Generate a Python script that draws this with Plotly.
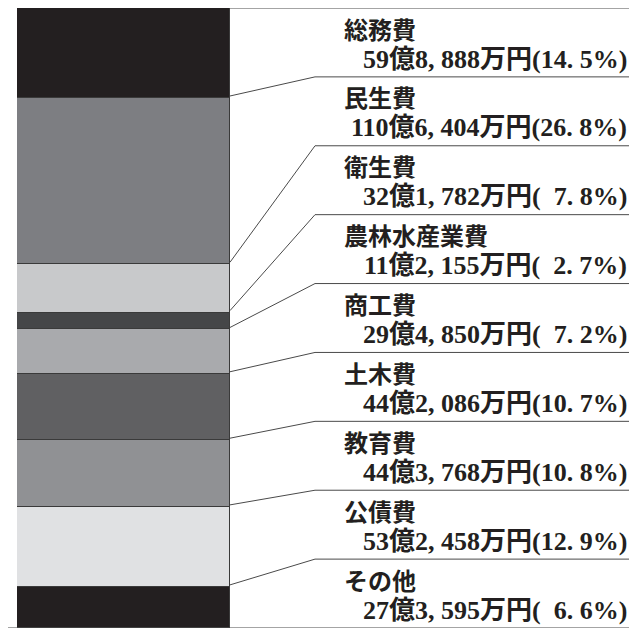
import plotly.graph_objects as go

categories = ["総務費", "民生費", "衛生費", "農林水産業費", "商工費", "土木費", "教育費", "公債費", "その他"]
amounts_man_yen = [598888, 1106404, 321782, 112155, 294850, 442086, 443768, 532458, 273595]
amount_labels = ["59億8, 888万円", "110億6, 404万円", "32億1, 782万円", "11億2, 155万円", "29億4, 850万円",
                 "44億2, 086万円", "44億3, 768万円", "53億2, 458万円", "27億3, 595万円"]
percent_labels = ["14. 5%", "26. 8%", "  7. 8%", "  2. 7%", "  7. 2%", "10. 7%", "10. 8%", "12. 9%", "  6. 6%"]
colors = ["#231f20", "#7d7e82", "#c8c9cb", "#454648", "#a9aaad", "#606062", "#909194", "#e0e1e3", "#231f20"]

# page geometry (the page body has an 8px margin)
PAGE_OFF = 8
W, H = 637 - PAGE_OFF, 630 - PAGE_OFF
plot_left_page, plot_right_page = 17, 637
plot_top_page, plot_bot_page = 8, 628
m_l = plot_left_page - PAGE_OFF
m_r = 0
m_t = plot_top_page - PAGE_OFF
m_b = (H + PAGE_OFF) - plot_bot_page
plot_w = plot_right_page - plot_left_page
plot_h = plot_bot_page - plot_top_page
bar_px = 213
total = sum(amounts_man_yen)

x_lo = -0.5
x_hi = x_lo + plot_w / bar_px
def px_to_x(px):
    return x_lo + (px - plot_left_page) / bar_px
def dpx_to_y(dpx):
    return dpx / plot_h * total

fig = go.Figure()
for cat, val, col in zip(categories, amounts_man_yen, colors):
    fig.add_trace(go.Bar(
        x=[0], y=[val], name=cat, width=1,
        marker=dict(color=col, line=dict(color="#3a3a3a", width=1.2)),
        hoverinfo="name+y",
    ))

n = len(categories)
slot = total / n
line_color = "#4a4a4a"
elbow_x = px_to_x(315)
shapes = []
shapes.append(dict(type="line", xref="x", yref="y", x0=0.5, x1=x_hi, y0=0, y1=0,
                   line=dict(color=line_color, width=1)))
shapes.append(dict(type="line", xref="paper", yref="y", x0=-m_l / plot_w, x1=1, y0=total, y1=total,
                   line=dict(color=line_color, width=1.2)))
cum = 0
annotations = []
for i, (cat, val) in enumerate(zip(categories, amounts_man_yen)):
    cum += val
    slot_top = slot * i
    slot_bot = slot * (i + 1)
    if i < n - 1:
        shapes.append(dict(type="path", xref="x", yref="y",
                           path=f"M 0.5 {cum - dpx_to_y(2)} L {elbow_x} {slot_bot} L {x_hi} {slot_bot}",
                           line=dict(color=line_color, width=1)))
    annotations.append(dict(
        xref="x", yref="y", x=px_to_x(342), y=slot_top + dpx_to_y(20),
        text=f"<b>{cat}</b>", showarrow=False, xanchor="left", yanchor="middle",
        font=dict(family="Noto Sans CJK JP", size=24, color="#231f20"),
    ))
    annotations.append(dict(
        xref="x", yref="y", x=px_to_x(629), y=slot_top + dpx_to_y(51),
        text=f"<b>{amount_labels[i]}({percent_labels[i]})</b>", showarrow=False, xanchor="right", yanchor="middle",
        font=dict(family="Liberation Serif, Noto Sans CJK JP", size=26, color="#231f20"),
    ))

fig.update_layout(
    width=W, height=H,
    margin=dict(l=m_l, r=m_r, t=m_t, b=m_b, pad=0),
    barmode="stack", bargap=0,
    showlegend=False,
    plot_bgcolor="white", paper_bgcolor="white",
    xaxis=dict(range=[x_lo, x_hi], visible=False, fixedrange=True),
    yaxis=dict(range=[total, 0], visible=False, fixedrange=True),
    shapes=shapes, annotations=annotations,
)
fig.write_html("out.html")
